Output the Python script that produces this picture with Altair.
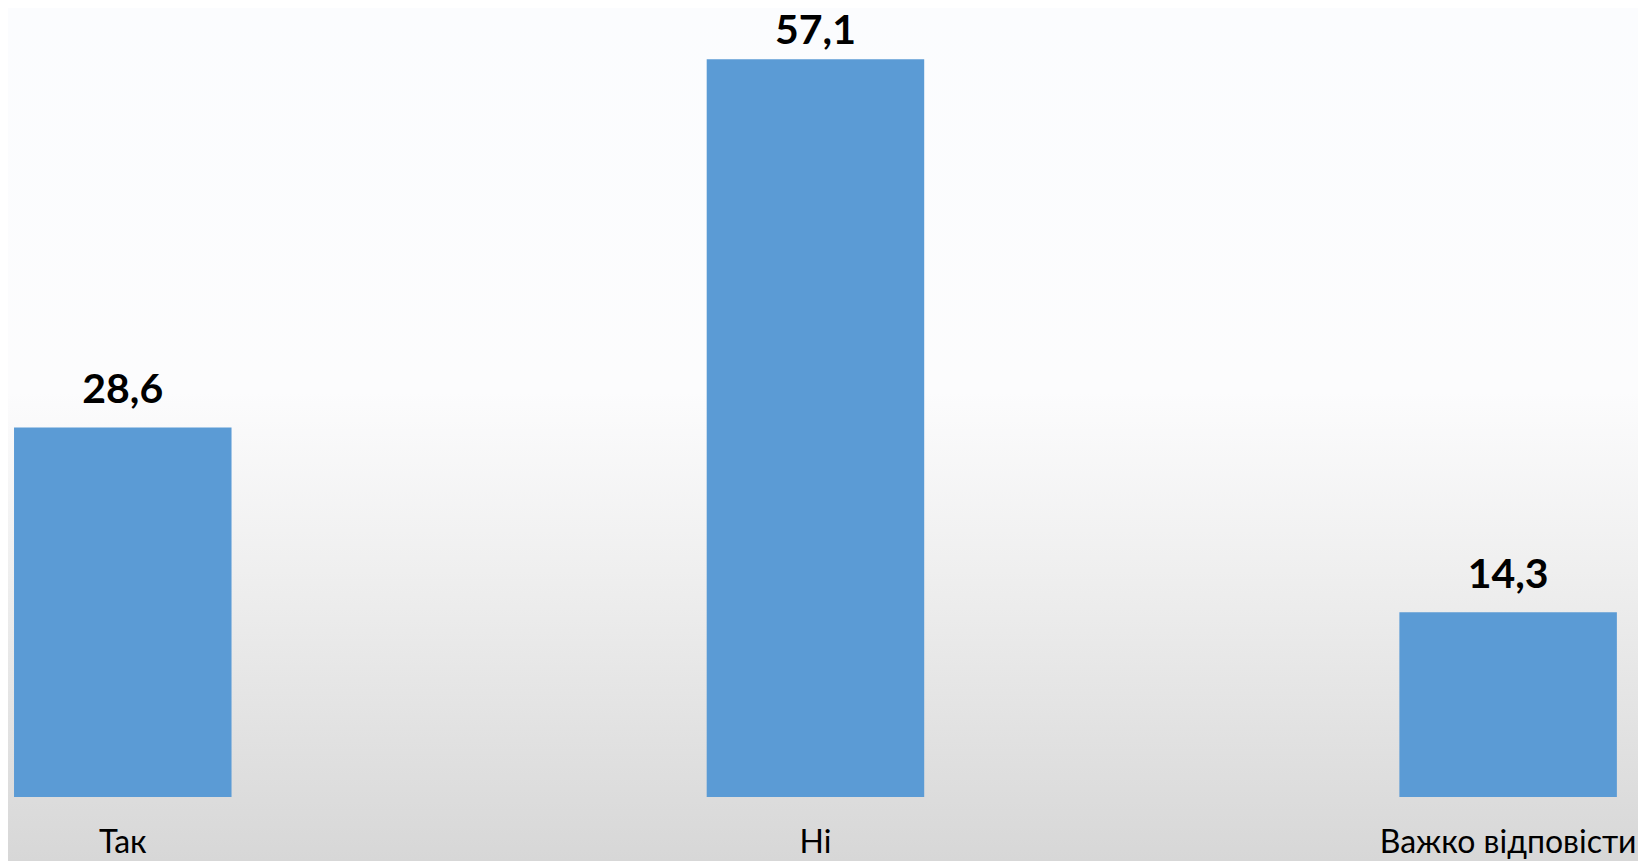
import altair as alt
import pandas as pd

categories = ["Так", "Ні", "Важко відповісти"]
values = [28.6, 57.1, 14.3]
value_labels = ["28,6", "57,1", "14,3"]

df = pd.DataFrame({"cat": categories, "val": values, "lab": value_labels})
bg = pd.DataFrame({"a": [0]})

W, H, TOP, BOTTOM = 1630, 781, 8, 64

xenc = alt.X("cat:N", sort=categories, axis=None,
             scale=alt.Scale(paddingInner=0.686, paddingOuter=0.0196, align=0.222))
yenc = alt.Y("val:Q", axis=None, scale=alt.Scale(domain=[0, 60.45], nice=False))

background = alt.Chart(bg).mark_rect(
    color=alt.Gradient(
        gradient="linear",
        stops=[
            alt.GradientStop(color="#fbfcfe", offset=0),
            alt.GradientStop(color="#fcfcfd", offset=0.45),
            alt.GradientStop(color="#efefef", offset=0.66),
            alt.GradientStop(color="#d7d7d7", offset=1),
        ],
        x1=0, x2=0, y1=0, y2=1,
    )
).encode(x=alt.value(0), x2=alt.value(W), y=alt.value(-TOP), y2=alt.value(H + BOTTOM))

bars = alt.Chart(df).mark_bar(color="#5b9bd5").encode(x=xenc, y=yenc)

num_style = dict(font="Lato", fontSize=41, fontWeight="bold", color="#000000",
                 baseline="alphabetic")
nums_low = alt.Chart(df).transform_filter(alt.datum.val < 50).mark_text(
    dy=-24, **num_style
).encode(x=xenc, y=yenc, text="lab:N")
nums_high = alt.Chart(df).transform_filter(alt.datum.val >= 50).mark_text(
    dy=-15, **num_style
).encode(x=xenc, y=yenc, text="lab:N")

cats = alt.Chart(df).mark_text(
    font="Lato", fontSize=32, color="#000000", baseline="alphabetic"
).encode(x=xenc, y=alt.value(H + 56), text="cat:N")

chart = alt.layer(background, bars, nums_low, nums_high, cats).properties(
    width=W, height=H,
    autosize=alt.AutoSizeParams(type="none"),
    padding={"left": 0, "top": TOP, "right": 0, "bottom": BOTTOM},
).configure_view(stroke=None)

chart.save("out.html", embed_options={"renderer": "svg", "actions": False})
